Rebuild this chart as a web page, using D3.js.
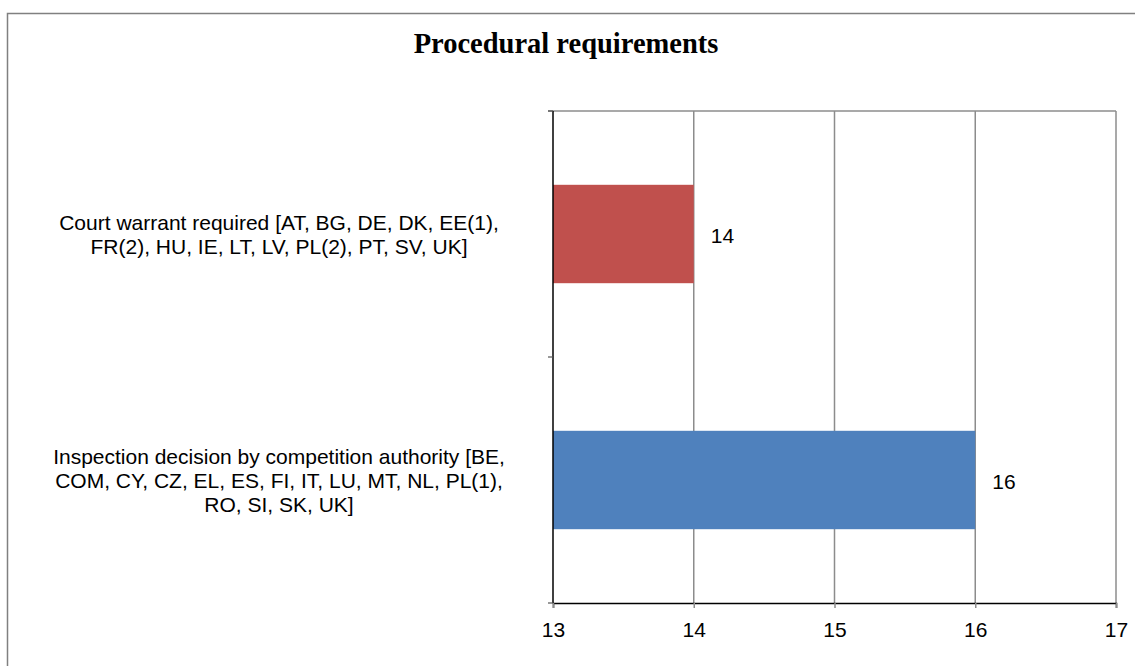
<!DOCTYPE html>
<html>
<head>
<meta charset="utf-8">
<script src="https://cdn.jsdelivr.net/npm/d3@7/dist/d3.min.js"></script>
<style>
  html, body { margin: 0; padding: 0; background: #fff; }
  svg { display: block; }
</style>
</head>
<body>
<svg id="chart" width="1135" height="666"></svg>
<script>
const title = "Procedural requirements";
const categories = [
  ["Court warrant required [AT, BG, DE, DK, EE(1),", "FR(2), HU, IE, LT, LV, PL(2), PT, SV, UK]"],
  ["Inspection decision by competition authority [BE,", "COM, CY, CZ, EL, ES, FI, IT, LU, MT, NL, PL(1),", "RO, SI, SK, UK]"]
];
const values = [14, 16];
const colors = ["#C0504D", "#4F81BD"];
const xTicks = [13, 14, 15, 16, 17];
const xDomain = [13, 17];

const svg = d3.select("#chart");
const W = 1135, H = 666;
const m = { left: 553, right: 1116, top: 111, bottom: 603 };
const FS = 21;
const sans = "'Liberation Sans', Arial, sans-serif";

// outer border
svg.append("rect")
  .attr("x", 7.5).attr("y", 13.5)
  .attr("width", W).attr("height", H)
  .attr("fill", "#fff").attr("stroke", "#808080").attr("stroke-width", 1.5);

// title
svg.append("text")
  .attr("x", 566).attr("y", 53)
  .attr("text-anchor", "middle")
  .attr("font-family", "'Liberation Serif', 'Times New Roman', serif")
  .attr("font-weight", "bold")
  .attr("font-size", 28.5)
  .text(title);

const x = d3.scaleLinear().domain(xDomain).range([m.left, m.right]);
const y = d3.scaleBand().domain(d3.range(categories.length)).range([m.top, m.bottom]).paddingInner(0.6).paddingOuter(0.3);

// gridlines
svg.append("g").selectAll("line").data(xTicks.slice(1)).join("line")
  .attr("x1", d => x(d)).attr("x2", d => x(d))
  .attr("y1", m.top).attr("y2", m.bottom)
  .attr("stroke", "#8c8c8c").attr("stroke-width", 1.5);
// top border of plot area
svg.append("line")
  .attr("x1", m.left - 5).attr("x2", m.right)
  .attr("y1", m.top).attr("y2", m.top)
  .attr("stroke", "#8c8c8c").attr("stroke-width", 1.5);

// bars
svg.append("g").selectAll("rect").data(values).join("rect")
  .attr("x", x(xDomain[0]))
  .attr("y", (d, i) => y(i))
  .attr("width", d => x(d) - x(xDomain[0]))
  .attr("height", y.bandwidth())
  .attr("fill", (d, i) => colors[i]);

// value labels
svg.append("g").selectAll("text").data(values).join("text")
  .attr("x", d => x(d) + 17)
  .attr("y", (d, i) => y(i) + y.bandwidth() / 2 + 9)
  .attr("font-family", sans)
  .attr("font-size", FS)
  .text(d => d);

// x axis
const xAxis = d3.axisBottom(x).tickValues(xTicks).tickSize(5).tickPadding(14).tickFormat(d3.format("d"));
const gx = svg.append("g").attr("transform", `translate(0,${m.bottom})`).call(xAxis);
gx.select(".domain").attr("stroke", "#000").attr("stroke-width", 1.5);
gx.selectAll(".tick line").attr("stroke", "#8c8c8c").attr("stroke-width", 1.5);
gx.selectAll(".tick text")
  .attr("font-family", sans)
  .attr("font-size", FS).attr("fill", "#000");

// y axis line and ticks
svg.append("line")
  .attr("x1", m.left).attr("x2", m.left)
  .attr("y1", m.top).attr("y2", m.bottom)
  .attr("stroke", "#000").attr("stroke-width", 1.5);
const yTickPos = [m.top, (m.top + m.bottom) / 2, m.bottom];
svg.append("g").selectAll("line").data(yTickPos).join("line")
  .attr("x1", m.left - 5).attr("x2", m.left)
  .attr("y1", d => d).attr("y2", d => d)
  .attr("stroke", "#555").attr("stroke-width", 1.2);

// category labels
const lineH = 24;
categories.forEach((lines, i) => {
  const cy = y(i) + y.bandwidth() / 2;
  const t = svg.append("text")
    .attr("text-anchor", "middle")
    .attr("font-family", sans)
    .attr("font-size", FS)
    .attr("fill", "#000");
  const start = cy - (lines.length - 1) * lineH / 2 + 8;
  lines.forEach((ln, j) => {
    t.append("tspan").attr("x", 279).attr("y", start + j * lineH).text(ln);
  });
});
</script>
</body>
</html>
